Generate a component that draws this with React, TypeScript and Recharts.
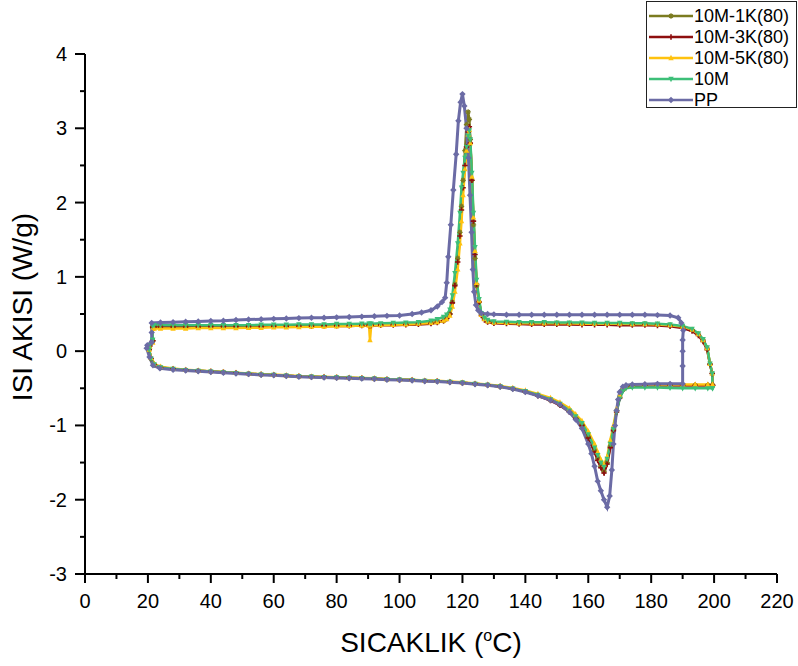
import { LineChart, Line, XAxis, YAxis, Legend, Label } from "recharts";

// heating / cooling runs of the 10M samples share the same temperature steps
const HEAT_T_10M = [
  21.5, 20.6, 20.4, 21, 22,
  24, 28, 32, 36, 40, 44, 48, 52, 56, 60,
  64, 68, 72, 76, 80, 84, 88, 92, 96, 100,
  104, 108, 112, 116, 120, 124, 128, 132, 136, 140,
  144, 148, 151, 154, 156, 158, 160, 162, 163, 164,
  165, 166, 167, 168, 169, 170, 171, 172, 174, 178,
  182, 186, 190, 194, 198, 199.5,
];
const HEAT_1K = [
  0.14, 0.07, 0.02, -0.1, -0.18,
  -0.22, -0.24, -0.255, -0.265, -0.275, -0.285, -0.295, -0.305, -0.315, -0.32,
  -0.33, -0.34, -0.345, -0.35, -0.355, -0.36, -0.365, -0.37, -0.38, -0.385,
  -0.39, -0.4, -0.405, -0.415, -0.425, -0.44, -0.455, -0.475, -0.505, -0.545,
  -0.595, -0.66, -0.72, -0.81, -0.9, -0.99, -1.15, -1.34, -1.45, -1.55,
  -1.62, -1.5, -1.28, -1.05, -0.8, -0.62, -0.52, -0.48, -0.465, -0.46,
  -0.46, -0.46, -0.46, -0.46, -0.46, -0.46,
];
const HEAT_3K = [
  0.14, 0.07, 0.02, -0.1, -0.18,
  -0.22, -0.24, -0.255, -0.265, -0.275, -0.285, -0.295, -0.305, -0.315, -0.32,
  -0.33, -0.34, -0.345, -0.35, -0.355, -0.36, -0.365, -0.37, -0.38, -0.385,
  -0.39, -0.4, -0.405, -0.415, -0.425, -0.44, -0.455, -0.475, -0.505, -0.545,
  -0.6, -0.665, -0.73, -0.82, -0.91, -1.0, -1.17, -1.36, -1.47, -1.57,
  -1.64, -1.52, -1.3, -1.07, -0.82, -0.63, -0.52, -0.48, -0.465, -0.46,
  -0.46, -0.46, -0.46, -0.46, -0.46, -0.46,
];
const HEAT_5K = [
  0.12, 0.06, 0.02, -0.09, -0.17,
  -0.21, -0.235, -0.25, -0.26, -0.27, -0.28, -0.29, -0.3, -0.31, -0.315,
  -0.325, -0.335, -0.34, -0.345, -0.35, -0.355, -0.36, -0.365, -0.375, -0.38,
  -0.385, -0.395, -0.4, -0.41, -0.42, -0.435, -0.45, -0.47, -0.495, -0.53,
  -0.575, -0.63, -0.69, -0.77, -0.85, -0.94, -1.08, -1.25, -1.36, -1.46,
  -1.53, -1.42, -1.2, -1.0, -0.78, -0.6, -0.5, -0.465, -0.455, -0.45,
  -0.45, -0.45, -0.45, -0.45, -0.45, -0.46,
];
const HEAT_10M = [
  0.15, 0.08, 0.02, -0.1, -0.18,
  -0.22, -0.24, -0.255, -0.265, -0.275, -0.285, -0.295, -0.305, -0.315, -0.32,
  -0.33, -0.34, -0.345, -0.35, -0.355, -0.36, -0.365, -0.37, -0.38, -0.385,
  -0.39, -0.4, -0.405, -0.415, -0.425, -0.44, -0.455, -0.475, -0.505, -0.54,
  -0.59, -0.65, -0.71, -0.8, -0.88, -0.97, -1.12, -1.3, -1.4, -1.5,
  -1.56, -1.45, -1.25, -1.05, -0.82, -0.64, -0.54, -0.5, -0.49, -0.49,
  -0.49, -0.495, -0.5, -0.5, -0.5, -0.5,
];

const COOL_T_10M = [
  199.5, 199.4, 198.7, 197.8, 196.5, 195, 193, 190, 186, 182,
  178, 174, 170, 166, 162, 158, 154, 150, 146, 142,
  138, 134, 130, 128, 127, 126, 125.3, 124.5, 124, 123.5,
  123, 122.5, 122.2, 121.8, 121.3, 120.8, 120.2, 119.7, 119.2, 118.5,
  117.6, 116.8, 116, 115, 114, 112, 110, 106, 102, 98,
  94, 91, 90.6, 90.3, 88, 84, 80, 76, 72, 68,
  64, 60, 56, 52, 48, 44, 40, 36, 32, 28,
  24, 22, 21.5,
];
const COOL_1K = [
  -0.46, -0.3, -0.17, 0.04, 0.15, 0.23, 0.29, 0.33, 0.35, 0.36,
  0.365, 0.365, 0.37, 0.37, 0.37, 0.37, 0.37, 0.375, 0.375, 0.375,
  0.375, 0.38, 0.385, 0.4, 0.44, 0.5, 0.66, 0.88, 1.25, 1.7,
  2.3, 2.85, 3.12, 3.22, 3.05, 2.7, 2.3, 1.95, 1.6, 1.25,
  0.9, 0.66, 0.5, 0.44, 0.41, 0.39, 0.38, 0.37, 0.365, 0.36,
  0.355, 0.355, 0.355, 0.355, 0.35, 0.35, 0.35, 0.345, 0.345, 0.345,
  0.34, 0.34, 0.34, 0.34, 0.335, 0.335, 0.335, 0.335, 0.335, 0.335,
  0.335, 0.335, 0.33,
];
const COOL_3K = [
  -0.46, -0.3, -0.18, 0.02, 0.13, 0.21, 0.27, 0.31, 0.335, 0.345,
  0.35, 0.35, 0.35, 0.355, 0.355, 0.355, 0.36, 0.36, 0.36, 0.36,
  0.365, 0.37, 0.375, 0.39, 0.42, 0.48, 0.66, 0.9, 1.3, 1.75,
  2.3, 2.8, 3.02, 2.95, 2.75, 2.5, 2.2, 1.9, 1.55, 1.2,
  0.88, 0.65, 0.5, 0.44, 0.41, 0.385, 0.37, 0.36, 0.355, 0.35,
  0.35, 0.345, 0.345, 0.345, 0.345, 0.34, 0.34, 0.34, 0.335, 0.335,
  0.335, 0.335, 0.33, 0.33, 0.33, 0.33, 0.33, 0.325, 0.325, 0.325,
  0.325, 0.325, 0.32,
];
const COOL_5K = [
  -0.45, -0.3, -0.17, 0.04, 0.15, 0.23, 0.29, 0.33, 0.35, 0.36,
  0.365, 0.365, 0.37, 0.37, 0.37, 0.37, 0.375, 0.375, 0.375, 0.375,
  0.375, 0.38, 0.385, 0.4, 0.43, 0.49, 0.68, 0.92, 1.35, 1.8,
  2.35, 2.8, 2.98, 2.92, 2.7, 2.45, 2.1, 1.75, 1.45, 1.1,
  0.8, 0.6, 0.48, 0.43, 0.41, 0.39, 0.38, 0.37, 0.36, 0.355,
  0.35, 0.35, 0.15, 0.345, 0.345, 0.34, 0.335, 0.33, 0.33, 0.325,
  0.32, 0.32, 0.315, 0.315, 0.31, 0.31, 0.31, 0.31, 0.305, 0.305,
  0.305, 0.305, 0.3,
];
const COOL_10M = [
  -0.5, -0.3, -0.17, 0.05, 0.16, 0.24, 0.3, 0.34, 0.36, 0.37,
  0.375, 0.375, 0.38, 0.38, 0.38, 0.385, 0.385, 0.385, 0.39, 0.39,
  0.39, 0.395, 0.4, 0.42, 0.45, 0.51, 0.7, 0.96, 1.4, 1.86,
  2.4, 2.85, 2.97, 2.9, 2.75, 2.6, 2.4, 2.2, 1.86, 1.45,
  1.05, 0.75, 0.56, 0.49, 0.46, 0.43, 0.41, 0.39, 0.385, 0.38,
  0.375, 0.37, 0.37, 0.37, 0.37, 0.365, 0.365, 0.36, 0.36, 0.36,
  0.355, 0.355, 0.355, 0.35, 0.35, 0.35, 0.35, 0.35, 0.35, 0.35,
  0.35, 0.35, 0.34,
];

// neat PP: cooling starts at 190 °C
const HEAT_T_PP = [
  21.2, 19.8, 19.6, 20.5, 21.6,
  23.8, 28, 32, 36, 40, 44, 48, 52, 56, 60,
  64, 68, 72, 76, 80, 84, 88, 92, 96, 100,
  104, 108, 112, 116, 120, 124, 128, 132, 136, 140,
  144, 148, 151, 154, 156, 158, 160, 161, 162, 163,
  164, 165, 166, 166.8, 167.5, 168, 168.5, 169, 169.5, 170,
  171, 172, 174, 178, 182, 186, 190,
];
const HEAT_PP = [
  0.12, 0.08, 0.04, -0.08, -0.19,
  -0.23, -0.25, -0.26, -0.27, -0.28, -0.29, -0.3, -0.31, -0.32, -0.325,
  -0.335, -0.345, -0.35, -0.355, -0.36, -0.365, -0.37, -0.375, -0.385, -0.39,
  -0.395, -0.405, -0.41, -0.42, -0.43, -0.445, -0.46, -0.48, -0.51, -0.55,
  -0.6, -0.66, -0.72, -0.82, -0.92, -1.04, -1.25, -1.38, -1.55, -1.75,
  -1.88, -2.0, -2.1, -1.95, -1.6, -1.25, -1.0, -0.8, -0.65, -0.55,
  -0.48, -0.46, -0.45, -0.445, -0.44, -0.44, -0.44,
];
const COOL_T_PP = [
  190, 190, 190, 190.2, 189.6, 188.6, 186, 182, 178, 174,
  170, 166, 162, 158, 154, 150, 146, 142, 138, 134,
  130, 128, 126, 125, 124.3, 123.7, 123.3, 122.9, 122.4, 121.9,
  121.3, 120.6, 120, 119.4, 118.7, 118, 117.1, 116.3, 115.5, 115,
  114.5, 113.5, 112, 110, 107, 104, 100, 96, 92, 88,
  84, 80, 76, 72, 68, 64, 60, 56, 52, 48,
  44, 40, 36, 32, 28, 24, 21.2, 21.2,
];
const COOL_PP = [
  -0.2, 0.0, 0.15, 0.28, 0.38, 0.45, 0.48, 0.485, 0.49, 0.49,
  0.49, 0.49, 0.49, 0.49, 0.49, 0.49, 0.49, 0.49, 0.49, 0.49,
  0.495, 0.5, 0.51, 0.55, 0.62, 0.8, 1.1, 1.6, 2.1, 2.6,
  3.0, 3.3, 3.46, 3.35, 3.1, 2.65, 2.17, 1.7, 1.27, 0.92,
  0.72, 0.66, 0.6, 0.55, 0.52, 0.5, 0.48, 0.475, 0.47, 0.465,
  0.46, 0.455, 0.45, 0.45, 0.445, 0.44, 0.435, 0.43, 0.425, 0.42,
  0.41, 0.405, 0.4, 0.395, 0.39, 0.385, 0.38, 0.25,
];

const X_TICKS = [0, 10, 20, 30, 40, 50, 60, 70, 80, 90, 100, 110, 120, 130, 140, 150, 160, 170, 180, 190, 200, 210, 220];
const Y_TICKS = [-3, -2.5, -2, -1.5, -1, -0.5, 0, 0.5, 1, 1.5, 2, 2.5, 3, 3.5, 4];

const FONT = '"Liberation Sans", Arial, sans-serif';

type Pt = { t: number; v: number };

function loop(heatT: number[], heat: number[], coolT: number[], cool: number[]): Pt[] {
  const pts = [
    ...heatT.map((t, i) => ({ t, v: heat[i] })),
    ...coolT.map((t, i) => ({ t, v: cool[i] })),
  ];
  return [...pts, pts[0]];
}

type Shape = "star" | "plus" | "up" | "down" | "diamond";

const SERIES: { name: string; color: string; shape: Shape; width: number; data: Pt[] }[] = [
  { name: "10M-1K(80)", color: "#7b7b20", shape: "star", width: 2.5, data: loop(HEAT_T_10M, HEAT_1K, COOL_T_10M, COOL_1K) },
  { name: "10M-3K(80)", color: "#8e0f0f", shape: "plus", width: 2.5, data: loop(HEAT_T_10M, HEAT_3K, COOL_T_10M, COOL_3K) },
  { name: "10M-5K(80)", color: "#ffc20e", shape: "up", width: 2.5, data: loop(HEAT_T_10M, HEAT_5K, COOL_T_10M, COOL_5K) },
  { name: "10M", color: "#3dbf78", shape: "down", width: 2.5, data: loop(HEAT_T_10M, HEAT_10M, COOL_T_10M, COOL_10M) },
  { name: "PP", color: "#6b6ba5", shape: "diamond", width: 3, data: loop(HEAT_T_PP, HEAT_PP, COOL_T_PP, COOL_PP) },
];

function Marker({ cx, cy, shape, color }: { cx: number; cy: number; shape: Shape; color: string }) {
  const s = shape === "diamond" ? 3.2 : 2.7;
  if (shape === "up")
    return <path d={`M${cx},${cy - s - 0.5}L${cx + s},${cy + s * 0.8}L${cx - s},${cy + s * 0.8}Z`} fill={color} />;
  if (shape === "down")
    return <path d={`M${cx},${cy + s + 0.5}L${cx + s},${cy - s * 0.8}L${cx - s},${cy - s * 0.8}Z`} fill={color} />;
  if (shape === "diamond")
    return <path d={`M${cx},${cy - s}L${cx + s},${cy}L${cx},${cy + s}L${cx - s},${cy}Z`} fill={color} />;
  if (shape === "plus")
    return <path d={`M${cx - s},${cy}H${cx + s}M${cx},${cy - s}V${cy + s}`} stroke={color} strokeWidth={1.6} />;
  return (
    <path
      d={`M${cx - s},${cy}H${cx + s}M${cx},${cy - s}V${cy + s}M${cx - 1.8},${cy - 1.8}L${cx + 1.8},${cy + 1.8}M${cx - 1.8},${cy + 1.8}L${cx + 1.8},${cy - 1.8}`}
      stroke={color}
      strokeWidth={1.3}
    />
  );
}

function XTick(props: any) {
  const { x, y, payload } = props;
  const major = payload.value % 20 === 0;
  return (
    <g>
      <line x1={x} x2={x} y1={y} y2={y + (major ? 9 : 5)} stroke="#000" strokeWidth={2} />
      {major && (
        <text x={x} y={y + 34} textAnchor="middle" fontSize={20} fontFamily={FONT} fill="#000">
          {payload.value}
        </text>
      )}
    </g>
  );
}

function YTick(props: any) {
  const { x, y, payload } = props;
  const major = Number.isInteger(payload.value);
  return (
    <g>
      <line x1={x - (major ? 10 : 5)} x2={x} y1={y} y2={y} stroke="#000" strokeWidth={2} />
      {major && (
        <text x={x - 18} y={y + 7} textAnchor="end" fontSize={20} fontFamily={FONT} fill="#000">
          {payload.value}
        </text>
      )}
    </g>
  );
}

function XTitle(props: any) {
  const vb = props.viewBox ?? { x: 85, y: 574, width: 692, height: 92 };
  return (
    <text x={vb.x + vb.width / 2} y={vb.y + 78} textAnchor="middle" fontSize={28} fontFamily={FONT} fill="#000">
      SICAKLIK (
      <tspan dy={-11} fontSize={16}>o</tspan>
      <tspan dy={11}>C)</tspan>
    </text>
  );
}

function YTitle(props: any) {
  const vb = props.viewBox ?? { x: 0, y: 54, width: 85, height: 520 };
  const x = vb.x + 32;
  const y = vb.y + vb.height / 2 - 7;
  return (
    <text x={x} y={y} transform={`rotate(-90, ${x}, ${y})`} textAnchor="middle" fontSize={28} fontFamily={FONT} fill="#000">
      ISI AKISI (W/g)
    </text>
  );
}

function LegendBox() {
  return (
    <div
      style={{
        width: "100%",
        height: "100%",
        boxSizing: "border-box",
        border: "1px solid #222",
        background: "#fff",
        paddingTop: 4,
        fontFamily: FONT,
        fontSize: 18,
        color: "#000",
      }}
    >
      {SERIES.map((s) => (
        <div key={s.name} style={{ display: "flex", alignItems: "center", height: 20.8 }}>
          <svg width={47} height={20} style={{ display: "block", flex: "none" }}>
            <line x1={2} x2={46} y1={10} y2={10} stroke={s.color} strokeWidth={2.5} />
            <Marker cx={24} cy={10} shape={s.shape} color={s.color} />
          </svg>
          <span style={{ lineHeight: "20px", whiteSpace: "nowrap" }}>{s.name}</span>
        </div>
      ))}
    </div>
  );
}

export default function App() {
  return (
    <div style={{ position: "absolute", left: 0, top: 0, background: "#fff", fontFamily: FONT }}>
      <LineChart width={798} height={666} margin={{ top: 54, right: 21, bottom: 0, left: 0 }}>
        <XAxis
          type="number"
          dataKey="t"
          domain={[0, 220]}
          ticks={X_TICKS}
          interval={0}
          allowDataOverflow
          height={92}
          tickSize={0}
          tickMargin={0}
          tickLine={false}
          tick={XTick}
          axisLine={{ stroke: "#000", strokeWidth: 2 }}
        >
          <Label content={XTitle} />
        </XAxis>
        <YAxis
          type="number"
          domain={[-3, 4]}
          ticks={Y_TICKS}
          interval={0}
          allowDataOverflow
          width={85}
          tickSize={0}
          tickMargin={0}
          tickLine={false}
          tick={YTick}
          axisLine={{ stroke: "#000", strokeWidth: 2 }}
        >
          <Label content={YTitle} />
        </YAxis>
        <Legend
          layout="vertical"
          align="center"
          verticalAlign="middle"
          wrapperStyle={{ position: "absolute", left: 646, top: 1, width: 151, height: 107 }}
          content={() => <LegendBox />}
        />
        {SERIES.map((s) => (
          <Line
            key={s.name}
            name={s.name}
            data={s.data}
            dataKey="v"
            type="linear"
            stroke={s.color}
            strokeWidth={s.width}
            dot={(p: any) => <Marker key={`${s.name}-${p.index}`} cx={p.cx} cy={p.cy} shape={s.shape} color={s.color} />}
            activeDot={false}
            isAnimationActive={false}
          />
        ))}
      </LineChart>
    </div>
  );
}
